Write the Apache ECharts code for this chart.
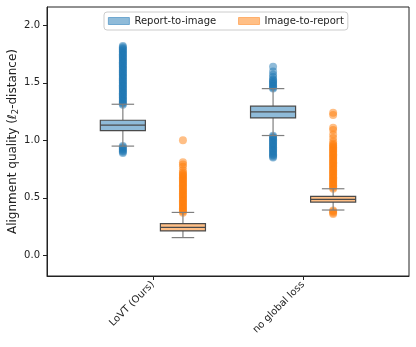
<!DOCTYPE html>
<html>
<head>
<meta charset="utf-8">
<script src="https://cdn.jsdelivr.net/npm/echarts@6/dist/echarts.min.js"></script>
<style>
  html, body { margin: 0; padding: 0; background: #fff; }
  #main { width: 416px; height: 347px; }
</style>
</head>
<body>
<div id="main"></div>
<script>
// categories and series
const categories = ['LoVT (Ours)', 'no global loss'];
const seriesNames = ['Report-to-image', 'Image-to-report'];
const yTicks = [0, 0.5, 1, 1.5, 2];

// box stats per category: [low whisker, q1, median, q3, high whisker]
const reportToImageBoxes = [
  [0.95, 1.085, 1.132, 1.175, 1.314],
  [1.042, 1.195, 1.247, 1.297, 1.45]
];
const imageToReportBoxes = [
  [0.154, 0.212, 0.243, 0.275, 0.373],
  [0.394, 0.463, 0.486, 0.512, 0.579]
];

// outliers per category
const reportToImageOutliers = [
  [1.31, 1.32, 1.33, 1.34, 1.35, 1.36, 1.37, 1.38, 1.39, 1.40, 1.41, 1.42, 1.43, 1.44,
   1.45, 1.46, 1.47, 1.48, 1.49, 1.50, 1.51, 1.52, 1.53, 1.54, 1.55, 1.56, 1.57, 1.58,
   1.59, 1.60, 1.61, 1.62, 1.63, 1.64, 1.65, 1.66, 1.67, 1.68, 1.69, 1.70, 1.71, 1.72,
   1.73, 1.74, 1.75, 1.76, 1.77, 1.78, 1.79, 1.80, 1.81, 1.82,
   0.95, 0.94, 0.93, 0.92, 0.91, 0.90, 0.89],
  [1.45, 1.46, 1.47, 1.48, 1.49, 1.50, 1.51, 1.52, 1.53, 1.55, 1.57, 1.60, 1.64,
   1.04, 1.03, 1.02, 1.01, 1.00, 0.99, 0.98, 0.97, 0.96, 0.95, 0.94, 0.93, 0.92,
   0.91, 0.90, 0.89, 0.88, 0.87, 0.86, 0.85]
];
const imageToReportOutliers = [
  [0.37, 0.38, 0.39, 0.40, 0.41, 0.42, 0.43, 0.44, 0.45, 0.46, 0.47, 0.48, 0.49, 0.50,
   0.51, 0.52, 0.53, 0.54, 0.55, 0.56, 0.57, 0.58, 0.59, 0.60, 0.61, 0.62, 0.63, 0.64,
   0.65, 0.66, 0.67, 0.68, 0.69, 0.70, 0.71, 0.72, 0.74, 0.77, 0.79, 0.81, 1.00],
  [0.58, 0.59, 0.60, 0.61, 0.62, 0.63, 0.64, 0.65, 0.66, 0.67, 0.68, 0.69, 0.70, 0.71,
   0.72, 0.73, 0.74, 0.75, 0.76, 0.77, 0.78, 0.79, 0.80, 0.81, 0.82, 0.83, 0.84, 0.85,
   0.86, 0.87, 0.88, 0.89, 0.90, 0.91, 0.92, 0.93, 0.94, 0.95, 0.96, 0.97, 0.99, 1.02,
   1.05, 1.09, 1.11, 1.22, 1.24,
   0.39, 0.38, 0.37, 0.36]
];

const offsets = [-0.2, 0.2];
const boxWidth = 0.3;
const fills = ['#8fbbd9', '#ffbf86'];
const points = ['#1f77b4', '#ff7f0e'];

function renderBox(fill) {
  return function (params, api) {
    const x = api.value(0);
    const low = api.coord([x, api.value(1)]);
    const q1 = api.coord([x, api.value(2)]);
    const med = api.coord([x, api.value(3)]);
    const q3 = api.coord([x, api.value(4)]);
    const high = api.coord([x, api.value(5)]);
    const half = api.size([boxWidth, 0])[0] / 2;
    const cx = low[0];
    const whisk = { stroke: '#7f7f7f', lineWidth: 1.2 };
    return {
      type: 'group',
      children: [
        { type: 'line', shape: { x1: cx, y1: low[1], x2: cx, y2: q1[1] }, style: whisk },
        { type: 'line', shape: { x1: cx, y1: q3[1], x2: cx, y2: high[1] }, style: whisk },
        { type: 'line', shape: { x1: cx - half / 2, y1: low[1], x2: cx + half / 2, y2: low[1] }, style: whisk },
        { type: 'line', shape: { x1: cx - half / 2, y1: high[1], x2: cx + half / 2, y2: high[1] }, style: whisk },
        {
          type: 'rect',
          shape: { x: cx - half, y: q3[1], width: half * 2, height: q1[1] - q3[1] },
          style: { fill: fill, stroke: '#4a4a4a', lineWidth: 1.2 }
        },
        { type: 'line', shape: { x1: cx - half, y1: med[1], x2: cx + half, y2: med[1] }, style: { stroke: '#4a4a4a', lineWidth: 1.2 } }
      ]
    };
  };
}

function boxSeries(name, boxes, idx) {
  return {
    name: name,
    type: 'custom',
    renderItem: renderBox(fills[idx]),
    itemStyle: { color: fills[idx] },
    encode: { x: 0, y: [1, 2, 3, 4, 5] },
    data: boxes.map((b, i) => [i + offsets[idx]].concat(b)),
    z: 3
  };
}

function outlierSeries(name, outliers, idx) {
  const data = [];
  outliers.forEach((vals, i) => vals.forEach(v => data.push([i + offsets[idx], v])));
  return {
    name: name + ' outliers',
    type: 'scatter',
    symbolSize: 8,
    itemStyle: { color: points[idx], opacity: 0.5 },
    data: data,
    z: 2
  };
}

const chart = echarts.init(document.getElementById('main'));
const option = {
  animation: false,
  textStyle: { fontFamily: 'DejaVu Sans' },
  grid: {
    left: 47, right: 7, top: 7, bottom: 71,
    containLabel: false, outerBoundsMode: 'none',
    show: true, borderColor: '#222', borderWidth: 1, backgroundColor: 'transparent'
  },
  legend: {
    left: 104, top: 12,
    padding: [4, 4],
    itemWidth: 21, itemHeight: 7, itemGap: 22,
    borderColor: '#cccccc', borderWidth: 1, borderRadius: 3,
    textStyle: { fontSize: 10, color: '#222', fontFamily: 'DejaVu Sans' },
    data: [
      { name: seriesNames[0], icon: 'rect', itemStyle: { color: fills[0], borderColor: '#5a9bc9', borderWidth: 0.8 } },
      { name: seriesNames[1], icon: 'rect', itemStyle: { color: fills[1], borderColor: '#ffa558', borderWidth: 0.8 } }
    ]
  },
  xAxis: {
    type: 'value',
    min: -0.705, max: 1.705,
    axisLine: { show: true, onZero: false, lineStyle: { color: '#222' } },
    axisTick: { show: true, customValues: [0, 1], length: 4, lineStyle: { color: '#222' } },
    axisLabel: {
      customValues: [0, 1],
      formatter: v => categories[Math.round(v)],
      rotate: 45, margin: 7,
      fontSize: 10, color: '#222', fontFamily: 'DejaVu Sans'
    },
    splitLine: { show: false }
  },
  yAxis: {
    type: 'value',
    min: -0.18, max: 2.16,
    axisLine: { show: true, onZero: false, lineStyle: { color: '#222' } },
    axisTick: { show: true, customValues: yTicks, length: 4, lineStyle: { color: '#222' } },
    axisLabel: {
      customValues: yTicks,
      formatter: v => v.toFixed(1),
      margin: 7,
      fontSize: 10, color: '#222', fontFamily: 'DejaVu Sans'
    },
    splitLine: { show: false },
    name: '{a|Alignment quality (}{i|ℓ}{s|2}{a|-distance)}',
    nameLocation: 'middle',
    nameGap: 27,
    nameMoveOverlap: false,
    nameTextStyle: {
      rich: {
        a: { fontSize: 12, color: '#222', fontFamily: 'DejaVu Sans', lineHeight: 15 },
        i: { fontSize: 12, color: '#222', fontFamily: 'DejaVu Sans', fontStyle: 'italic', lineHeight: 15 },
        s: { fontSize: 8.5, color: '#222', fontFamily: 'DejaVu Sans', verticalAlign: 'bottom', lineHeight: 15 }
      }
    }
  },
  series: [
    outlierSeries(seriesNames[0], reportToImageOutliers, 0),
    outlierSeries(seriesNames[1], imageToReportOutliers, 1),
    boxSeries(seriesNames[0], reportToImageBoxes, 0),
    boxSeries(seriesNames[1], imageToReportBoxes, 1)
  ]
};
option && chart.setOption(option);
</script>
</body>
</html>
